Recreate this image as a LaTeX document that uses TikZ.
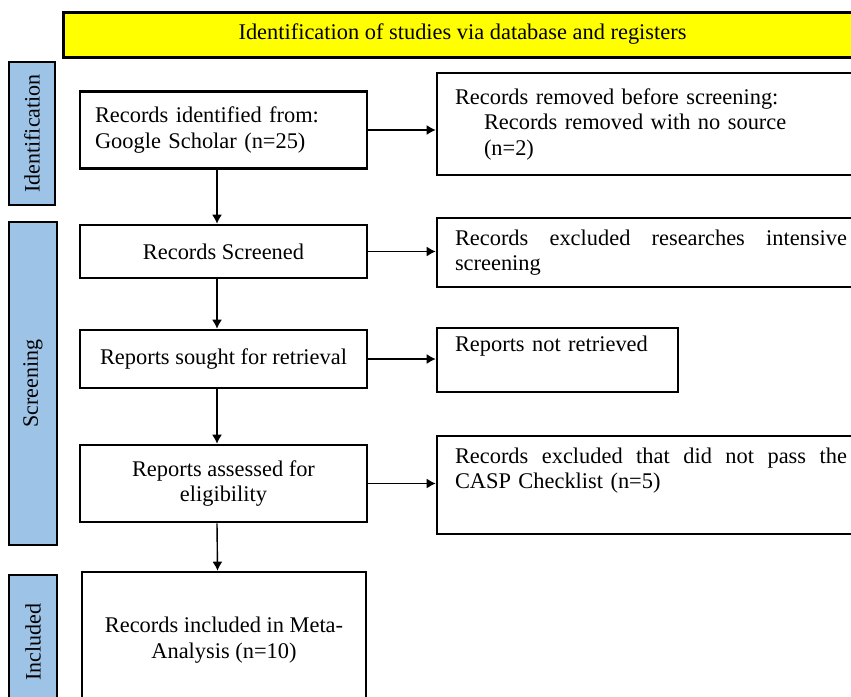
\documentclass[tikz,border=0pt]{standalone}
\usepackage{fontspec}
\setmainfont{Liberation Serif}
\usetikzlibrary{arrows.meta}
\definecolor{bannerYellow}{RGB}{255,255,0}
\definecolor{phaseBlue}{RGB}{157,195,230}

\begin{document}
\begin{tikzpicture}[x=1pt,y=-1pt,
  box/.style={rectangle, draw, line width=2.6pt, fill=white, inner sep=0pt,
    font=\fontsize{22.4}{25.5}\selectfont},
  sidebox/.style={box, minimum width=428, text width=392, align=left},
  phase/.style={rectangle, draw, line width=2.8pt, fill=phaseBlue, rotate=90,
    inner sep=0pt, font=\fontsize{22}{25}\selectfont},
  arr/.style={-{Latex[length=9pt,width=10pt]}, line width=1.4pt}]
\useasboundingbox (0,0) rectangle (851,696);
\clip (0,0) rectangle (851,696);

% Banner
\node[box, line width=3pt, fill=bannerYellow, minimum width=799, minimum height=45] (banner) at (462.5,34.5) {Identification of studies via database and registers};

% Phases
\node[phase, minimum width=143, minimum height=46] (phId) at (32,133.5) {Identification};
\node[phase, minimum width=323, minimum height=48] (phScr) at (33,383.5) {Screening};
\node[phase, minimum width=134, minimum height=48] (phInc) at (33,642) {Included};

% Main flow
\node[box, minimum width=287, minimum height=77, text width=257, align=left] (found) at (223.5,130) {Records identified from:\\Google Scholar (n=25)};
\node[box, minimum width=287, minimum height=53] (screened) at (223.5,251.5) {Records Screened};
\node[box, minimum width=287, minimum height=58] (sought) at (223.5,359) {Reports sought for retrieval};
\node[box, minimum width=287, minimum height=77, align=center] (assessed) at (223.5,483.5) {Reports assessed for\\eligibility};
\node[box, minimum width=284, minimum height=136, align=center] (included) at (224,640) {Records included in Meta-\\Analysis (n=10)};

% Exclusions
\node[sidebox, minimum height=102] (removed) at (651,124) {Records removed before screening:\\\hspace*{29pt}Records removed with no source\\\hspace*{29pt}(n=2)};
\node[sidebox, minimum height=69] (exclA) at (651,252.5) {Records\hfill excluded\hfill researches\hfill intensive\\screening};
\node[box, minimum width=241, minimum height=64, text width=205, align=left] (notret) at (557.5,360) {Reports not retrieved\\\strut};
\node[sidebox, minimum height=98] (exclB) at (651,485) {Records\hfill excluded\hfill that\hfill did\hfill not\hfill pass\hfill the\\CASP Checklist (n=5)\\\strut};

% Arrows
\draw[arr] ([xshift=-6.5pt]found.south) -- ([xshift=-6.5pt]screened.north);
\draw[arr] ([xshift=-6.5pt]screened.south) -- ([xshift=-6.5pt]sought.north);
\draw[arr] ([xshift=-6.5pt]sought.south) -- ([xshift=-6.5pt]assessed.north);
\draw[arr] ([xshift=-6.5pt]assessed.south) -- ([xshift=-6.5pt]included.north);
\draw[arr] (found.east) -- (found.east -| removed.west);
\draw[arr] (screened.east) -- (screened.east -| exclA.west);
\draw[arr] (sought.east) -- (sought.east -| notret.west);
\draw[arr] (assessed.east) -- (assessed.east -| exclB.west);
\end{tikzpicture}
\end{document}
